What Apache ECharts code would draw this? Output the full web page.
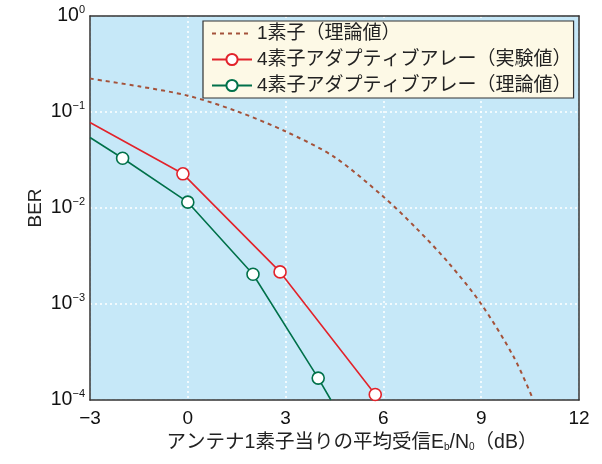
<!DOCTYPE html>
<html>
<head>
<meta charset="utf-8">
<script src="https://cdn.jsdelivr.net/npm/echarts@6/dist/echarts.min.js"></script>
<style>
  html, body { margin: 0; padding: 0; background: #fff; }
  #container { width: 602px; height: 464px; }
</style>
</head>
<body>
<div id="container"></div>
<script>
// values (x in dB, y = BER)
let singleX = [-3, -1.5, 0, 1.5, 3, 4.5, 6, 7, 8, 9, 10, 10.6];
let singleY = [0.223, 0.185, 0.148, 0.102, 0.0627, 0.0339, 0.0131, 0.0062, 0.00268, 0.001, 0.00028, 0.0001];

let expX = [-3, -0.15, 2.83, 5.75];
let expY = [0.0778, 0.0227, 0.00216, 0.000114];
let expMark = [false, true, true, true];

let theoX = [-3, -2, 0, 2, 4, 4.39];
let theoY = [0.0543, 0.033, 0.0115, 0.00204, 0.000169, 0.0001];
let theoMark = [false, true, true, true, true, false];

let seriesNames = ['1素子（理論値）', '4素子アダプティブアレー（実験値）', '4素子アダプティブアレー（理論値）'];
let xTicks = [-3, 0, 3, 6, 9, 12];

const FONT = "'Liberation Sans', 'Noto Sans CJK JP', sans-serif";
const FRAME = { show: true, onZero: false, lineStyle: { color: '#333', width: 1.5 } };
const DOTS = { show: true, lineStyle: { color: '#fff', type: [2, 3], width: 1.5 } };

function pts(xs, ys, marks) {
  return xs.map((x, i) => {
    let p = { value: [x, ys[i]] };
    if (marks && !marks[i]) p.symbol = 'none';
    return p;
  });
}

var myChart = echarts.init(document.getElementById('container'));

let option = {
  animation: false,
  textStyle: { fontFamily: FONT },
  grid: {
    left: 90,
    right: 23,
    top: 16,
    bottom: 64,
    show: true,
    backgroundColor: '#c6e8f8',
    borderWidth: 0,
  },
  legend: {
    orient: 'vertical',
    left: 203,
    top: 21,
    backgroundColor: '#fdf9e6',
    borderColor: '#333',
    borderWidth: 1.2,
    padding: [3, 2, 3, 8],
    itemGap: 7,
    itemWidth: 40,
    itemHeight: 14,
    textStyle: { fontSize: 19, color: '#222', fontFamily: FONT },
    data: [
      { name: seriesNames[0], itemStyle: { opacity: 0 } },
      seriesNames[1],
      seriesNames[2],
    ],
  },
  xAxis: [
    {
      type: 'value',
      min: -3,
      max: 12,
      interval: 3,
      axisLine: FRAME,
      axisTick: { show: false },
      splitLine: DOTS,
      axisLabel: {
        fontSize: 19,
        color: '#111',
        margin: 9,
        formatter: (v) => (xTicks.includes(v) ? String(v).replace('-', '−') : ''),
      },
      name: 'アンテナ1素子当りの平均受信E{sub|b}/N{sub|0}（dB）',
      nameLocation: 'middle',
      nameGap: 33,
      nameMoveOverlap: false,
      nameTextStyle: {
        fontSize: 19.5,
        color: '#222',
        padding: [0, 0, 0, 35],
        rich: {
          sub: { fontSize: 10, verticalAlign: 'bottom', padding: [9, 0, 0, 0] },
        },
      },
    },
    {
      type: 'value',
      position: 'top',
      min: -3,
      max: 12,
      interval: 3,
      axisLine: FRAME,
      axisTick: { show: false },
      axisLabel: { show: false },
      splitLine: { show: false },
    },
  ],
  yAxis: [
    {
      type: 'log',
      min: 0.0001,
      max: 1,
      logBase: 10,
      axisLine: FRAME,
      axisTick: { show: false },
      splitLine: DOTS,
      axisLabel: {
        margin: 5,
        color: '#111',
        formatter: (v) => {
          let e = Math.round(Math.log10(v));
          return '{b|10}{s|' + (e < 0 ? '−' + -e : e) + '}';
        },
        rich: {
          b: { fontSize: 19.5, color: '#111' },
          s: { fontSize: 11, color: '#111', verticalAlign: 'top', padding: [0, 0, 13, 0] },
        },
      },
      name: 'BER',
      nameLocation: 'middle',
      nameGap: 45,
      nameMoveOverlap: false,
      nameTextStyle: { fontSize: 19, color: '#222' },
    },
    {
      type: 'log',
      position: 'right',
      min: 0.0001,
      max: 1,
      logBase: 10,
      axisLine: FRAME,
      axisTick: { show: false },
      axisLabel: { show: false },
      splitLine: { show: false },
    },
  ],
  series: [
    {
      name: seriesNames[0],
      type: 'line',
      data: pts(singleX, singleY),
      smooth: 0.3,
      symbol: 'none',
      lineStyle: { color: '#a4523a', width: 2, type: [4, 4] },
      itemStyle: { color: '#a4523a' },
      z: 2,
    },
    {
      name: seriesNames[1],
      type: 'line',
      data: pts(expX, expY, expMark),
      symbol: 'circle',
      symbolSize: 12,
      showAllSymbol: true,
      lineStyle: { color: '#e2232b', width: 1.6 },
      itemStyle: { color: '#fff', borderColor: '#e2232b', borderWidth: 1.6 },
      z: 3,
    },
    {
      name: seriesNames[2],
      type: 'line',
      data: pts(theoX, theoY, theoMark),
      symbol: 'circle',
      symbolSize: 12,
      showAllSymbol: true,
      lineStyle: { color: '#00714a', width: 1.6 },
      itemStyle: { color: '#fff', borderColor: '#00714a', borderWidth: 1.6 },
      z: 3,
    },
  ],
};

myChart.setOption(option);
</script>
</body>
</html>
